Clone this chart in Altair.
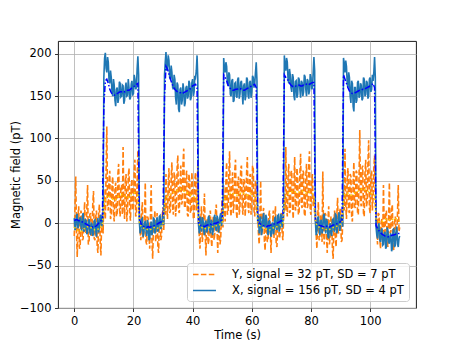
import altair as alt
import pandas as pd

RAW_STEP = 0.25  # sampling interval of the measured series (s)
FIT_STEP = 0.5   # sampling interval of the smoothed series (s)

LABEL_Y = "Y, signal = 32 pT, SD = 7 pT"
LABEL_X = "X, signal = 156 pT, SD = 4 pT"

# X channel (pT), one row per half-cycle
x_signal = (
    [6, -8, -5, 9, 11, -6, -2, 4, 7, -3, -9, 8, 12, -10, -7, 5, 3, -13, -11, 2,
     5, -9, -14, 0, -1, -15, -12, 3, 4, -8, -16, -2, 6, -11, -3, 7, 10, -4, 2, 12]
    + [172, 195, 201, 183, 178, 196, 190, 168, 165, 180, 172, 155, 150, 170, 163, 145,
       138, 158, 160, 142, 147, 167, 165, 149, 150, 163, 162, 141, 145, 160, 166, 150,
       151, 170, 160, 146, 148, 164, 168, 152, 153, 175, 170, 158, 160, 182, 197, 175]
    + [2, -12, -8, 5, 6, -16, -12, 0, 3, -8, -15, 4, -1, -20, -18, -4, 2, -14,
       -10, 6, 5, -12, -9, 3, 7, -10, -6, 8, 9, -7, -3, 6, 10, -2]
    + [175, 190, 202, 180, 185, 198, 192, 172, 170, 186, 178, 160, 158, 175, 170, 148,
       140, 166, 163, 135, 131, 158, 160, 140, 145, 165, 158, 138, 142, 160, 162, 147,
       150, 168, 165, 145, 148, 166, 170, 150, 155, 174, 172, 180, 198, 170]
    + [-2, -12, 8, -4, -10, 7, 5, -9, -14, 1, 3, -11, -8, 6, 9, -6, -12, 4,
       2, -14, -6, 7, 10, -5, -9, 9, 6, -11, -4, 8, 12, -3, 4, 10]
    + [195, 182, 178, 190, 185, 165, 162, 178, 175, 152, 150, 168, 170, 143, 145, 165,
       166, 150, 148, 170, 172, 147, 152, 166, 168, 155, 140, 162, 165, 145, 150, 172,
       170, 151, 147, 166, 168, 148, 155, 174, 172, 160, 165, 178, 190, 168]
    + [0, 9, -12, 4, 8, -14, -9, 5, 12, -3, -5, 10, 6, -8, -14, 2, 3, -11,
       -16, -2, 1, -13, -10, 6, 7, -6, -8, 9, 10, -10, -4, 11, 8, -5, 3, 12]
    + [198, 185, 180, 195, 190, 170, 165, 182, 175, 160, 155, 176, 172, 150, 145, 167,
       168, 148, 152, 172, 170, 158, 148, 168, 166, 150, 155, 175, 173, 158, 150, 170,
       168, 152, 156, 176, 172, 158, 160, 178, 196, 180]
    + [2, -14, -10, 6, 8, -5, -14, 2, 4, -12, -8, 9, 11, -3, -12, 5, 2, -16, -18,
       -3, 0, -12, -15, 4, 5, -8, -9, 11, 10, -12, -6, 7, 13, -9, -2, 10, 8, -4]
    + [195, 188, 178, 192, 185, 165, 160, 178, 172, 150, 142, 168, 165, 138, 132, 160,
       160, 142, 145, 166, 168, 148, 150, 165, 163, 145, 147, 172, 170, 150, 152, 168,
       166, 147, 150, 170, 172, 155, 158, 175, 168, 178, 196, 172]
    + [-5, -14, -18, -2, 0, -20, -22, -8, -6, -26, -25, -12, -10, -30, -28, -5, -8,
       -22, -24, -14, -12, -33, -30, -9, -6, -28, -26, -10, -4, -24, -28, -18, -15]
)

# Y channel (pT)
y_signal = (
    [-15, 20, 55, -10, -40, 8, 20, -30, -28, 15, 10, -20, -18, 5, 25, -12, -10, 18, 45, -25,
     -22, 10, 12, -15, -8, 22, 38, -18, -20, 8, 15, -28, -35, 12, 22, -20, -38, 0, 5, -12]
    + [40, 15, 5, 60, 114, 20, 15, 50, 62, 5, 10, 45, 55, 12, 2, 40, 48, 8, 12, 58, 70, 18, 8, 42,
       45, 10, 90, 25, 5, 48, 58, 2, 15, 55, 65, 12, 3, 44, 52, 15, 20, 62, 75, 8, 10, 50, 86, 20]
    + [15, -10, -20, 12, 25, -18, -12, 5, 48, -22, -25, 8, 5, -15, -30, 10, 45,
       -20, -42, -5, 0, 15, -22, -8, 12, -28, -35, 3, 8, -20, -15, 10, 18, -8]
    + [30, 10, 58, 20, 5, 45, 65, 12, 15, 52, 72, 18, 10, 60, 55, 8, 20, 65, 80, 15, 12, 48, 68,
       22, 25, 70, 88, 20, 18, 55, 62, 10, 8, 58, 50, 12, 15, 60, 45, 5, 5, 52, 60, 15, 25, 70]
    + [10, -15, -30, 5, 20, -22, -15, 12, 35, -10, -38, 2, 5, -25, -20, 10, 15,
       -18, -28, 0, 8, -20, -12, 15, 22, -8, -35, 6, 3, -25, -18, 12, 28, -5]
    + [45, 20, 2, 50, 72, 10, 15, 58, 85, 18, 8, 45, 60, 12, 22, 62, 75, 15, 5, 48, 55, 10, 18,
       65, 68, 20, 10, 52, 50, 8, 25, 60, 78, 18, 12, 55, 58, 10, 20, 68, 65, 15, 8, 50, 45, 10]
    + [10, -12, -25, 8, 50, -15, -10, 12, 18, -20, -32, 0, 5, -22, -20, 10, 15, -8,
       -35, -5, -2, 15, -18, 5, 20, -25, -28, 2, 8, -18, -15, 10, 12, -10, -20, 5]
    + [35, 15, 90, 20, 8, 55, 70, 12, 15, 60, 62, 20, 5, 50, 78, 15, 20, 65, 55, 10, 12,
       58, 82, 22, 18, 62, 60, 12, 8, 55, 70, 18, 22, 68, 85, 15, 10, 50, 58, 20, 30, 12]
    + [15, -12, -30, 5, 25, -20, -18, 10, 8, -22, 61, -8, -25, 12, 10, -15, -35, 5, 20,
       -25, -15, 8, 5, -30, -42, 0, 15, -18, -28, 10, 30, -12, -10, 15, 18, -22, -20, 2]
    + [40, 15, 88, 22, 5, 50, 65, 15, 12, 58, 55, 8, 2, 48, 72, 20, 18, 62, 60, 12, 10, 55,
       110, 25, 20, 65, 68, 12, 8, 58, 75, 20, 25, 70, 98, 18, 12, 55, 62, 15, 30, 65, 80, 20]
    + [20, -8, -25, 12, 10, -18, -30, 2, 5, -20, 45, -5, -15, 10, 15, -22, -28,
       5, 48, -12, -10, 15, 22, -25, -32, 0, 8, -18, -20, 12, 45, -10, -5]
)

# smoothed X (blue dash-dot)
x_fit = (
    [3, 4, 4, 3, 3, 2, 1, 0, -1, -2, -3, -4, -4, -5, -4, -3, -1, 1, 3, 5]
    + [140, 168, 170, 165, 158, 154, 152, 151, 152, 153, 154, 155, 155, 156, 155, 156, 157, 157, 158, 160, 161, 162, 164, 165]
    + [5, 0, -3, -4, -5, -5, -4, -5, -4, -3, -3, -2, -1, 0, 1, 2, 4]
    + [150, 185, 182, 176, 170, 165, 161, 158, 156, 155, 154, 154, 153, 154, 155, 156, 157, 158, 160, 162, 163, 164, 160]
    + [0, -2, -3, -3, -4, -3, -2, -2, -1, -2, -1, 0, 0, 1, 2, 3, 5]
    + [175, 172, 168, 163, 160, 158, 157, 157, 158, 158, 159, 159, 158, 157, 157, 158, 159, 160, 161, 162, 163, 164, 160]
    + [2, 0, -1, -2, -3, -4, -4, -3, -3, -2, -1, -1, 0, 0, 1, 2, 3, 4]
    + [175, 172, 170, 167, 164, 162, 161, 161, 162, 162, 163, 162, 162, 163, 163, 164, 163, 164, 165, 166, 166]
    + [3, 0, -2, -3, -3, -4, -4, -3, -4, -5, -4, -3, -2, -2, -1, 0, 1, 2, 3]
    + [175, 170, 165, 160, 156, 154, 153, 153, 154, 155, 156, 157, 157, 158, 158, 159, 160, 161, 162, 163, 165, 160]
    + [-3, -6, -9, -11, -13, -14, -15, -15, -16, -16, -15, -14, -14, -13, -13, -12, -12]
)

# smoothed Y (yellow dotted)
y_fit = (
    [-5, -6, -8, -9, -10, -9, -8, -6, -5, -4, -4, -5, -6, -7, -8, -8, -7, -6, -4, -2]
    + [20, 28, 32, 33, 31, 30, 28, 27, 28, 30, 32, 33, 34, 33, 32, 31, 30, 31, 33, 34, 35, 36, 35, 33]
    + [0, -3, -5, -6, -6, -7, -8, -8, -7, -6, -5, -5, -6, -5, -4, -3, -2]
    + [25, 30, 32, 33, 34, 35, 36, 37, 38, 39, 40, 40, 39, 38, 37, 36, 35, 34, 33, 32, 31, 32, 30]
    + [0, -3, -5, -6, -7, -6, -6, -5, -5, -4, -4, -3, -3, -2, -2, -1, 0]
    + [25, 30, 32, 34, 35, 36, 35, 34, 33, 33, 34, 35, 36, 36, 35, 34, 33, 34, 35, 34, 33, 32, 30]
    + [2, -2, -4, -5, -6, -7, -7, -8, -8, -7, -6, -5, -4, -4, -3, -2, -2, 0]
    + [28, 33, 35, 36, 36, 37, 38, 37, 36, 36, 37, 38, 38, 37, 36, 35, 36, 37, 36, 35, 33]
    + [2, -2, -4, -5, -5, -6, -6, -7, -8, -8, -7, -6, -5, -5, -4, -3, -2, -1, 0]
    + [28, 34, 36, 35, 34, 33, 34, 35, 36, 37, 38, 39, 40, 41, 40, 39, 38, 37, 36, 35, 34, 33]
    + [5, 3, 2, 1, 2, 3, 4, 5, 5, 4, 3, 4, 5, 6, 5, 4, 3]
)

X_TICKS = [0, 20, 40, 60, 80, 100]
Y_TICKS = [-100, -50, 0, 50, 100, 150, 200]


def frame(vals, step, series):
    return pd.DataFrame({
        "t": [i * step for i in range(len(vals))],
        "v": vals,
        "series": series,
    })


df_y = frame(y_signal, RAW_STEP, LABEL_Y)
df_x = frame(x_signal, RAW_STEP, LABEL_X)
df_xf = frame(x_fit, FIT_STEP, "x fit")
df_yf = frame(y_fit, FIT_STEP, "y fit")

FONT = "DejaVu Sans"
FS = 11.5

x_enc = alt.X(
    "t:Q",
    scale=alt.Scale(domain=[-5.5, 115.5], nice=False, zero=False),
    axis=alt.Axis(title="Time (s)", values=X_TICKS, titlePadding=3),
)
y_enc = alt.Y(
    "v:Q",
    scale=alt.Scale(domain=[-100, 215], nice=False, zero=False),
    axis=alt.Axis(title="Magnetic field (pT)", values=Y_TICKS, titleX=-37, titleY=133.5),
)

legend = alt.Legend(
    title=None,
    orient="none",
    legendX=129,
    legendY=222,
    symbolType="M-2,0H2",
    symbolSize=132,
    symbolStrokeWidth=1.5,
    symbolOffset=6,
    labelFont=FONT,
    labelFontSize=FS,
    labelColor="black",
    labelLimit=400,
    labelOffset=21,
    fillColor="rgba(255,255,255,0.8)",
    strokeColor="#cccccc",
    cornerRadius=3,
    padding=5,
    rowPadding=4,
)

color = alt.Color(
    "series:N",
    scale=alt.Scale(domain=[LABEL_Y, LABEL_X], range=["#ff7f0e", "#1f77b4"]),
    legend=legend,
)
dash = alt.StrokeDash(
    "series:N",
    scale=alt.Scale(domain=[LABEL_Y, LABEL_X], range=[[5.5, 2.4], [1, 0]]),
    legend=legend,
)

layer_y = alt.Chart(df_y).mark_line(strokeWidth=1.6, clip=True).encode(
    x=x_enc, y=y_enc, color=color, strokeDash=dash
)
layer_x = alt.Chart(df_x).mark_line(strokeWidth=1.6, clip=True).encode(
    x=x_enc, y=y_enc, color=color, strokeDash=dash
)
layer_xf = alt.Chart(df_xf).mark_line(
    color="#0000ff", strokeWidth=1.5, strokeDash=[6, 2, 1.5, 2], clip=True
).encode(x=x_enc, y=y_enc)
layer_yf = alt.Chart(df_yf).mark_line(
    color="#ffd700", strokeWidth=1.5, strokeDash=[1.5, 2.4], clip=True
).encode(x=x_enc, y=y_enc)

chart = (
    alt.layer(layer_y, layer_x, layer_xf, layer_yf)
    .properties(
        width=358,
        height=267,
        autosize=alt.AutoSizeParams(type="none"),
        padding={"left": 50, "top": 33, "right": 39, "bottom": 36},
    )
    .configure_view(stroke="black", strokeWidth=0.9)
    .configure_axis(
        domain=False,
        grid=True,
        gridColor="#b0b0b0",
        gridWidth=0.8,
        gridOpacity=1,
        tickColor="black",
        tickSize=3.5,
        tickWidth=0.8,
        labelFont=FONT,
        labelFontSize=FS,
        labelColor="black",
        labelPadding=3.5,
        titleFont=FONT,
        titleFontSize=FS,
        titleFontWeight="normal",
        titleColor="black",
    )
)

chart.save("out.html", embed_options={"renderer": "svg", "actions": False})
